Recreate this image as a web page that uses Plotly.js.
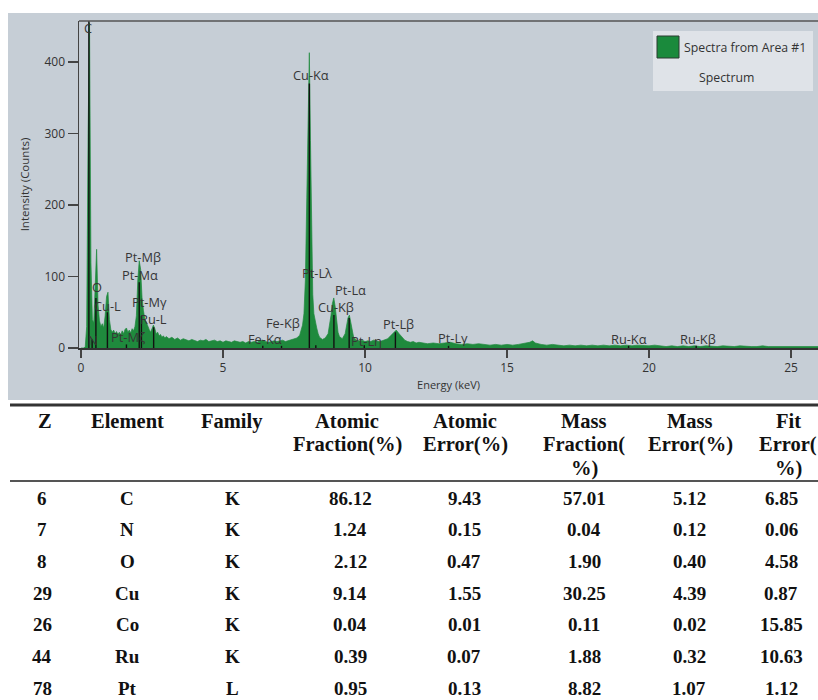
<!DOCTYPE html>
<html><head><meta charset="utf-8">
<script src="https://cdn.plot.ly/plotly-3.0.1.min.js"></script>
<style>html,body{margin:0;padding:0;background:#fff;} #chart{width:818px;height:700px;}</style>
</head><body><div id="chart"></div>
<script>
// ---- Spectrum (energy in keV, intensity in counts) ----
const energyKeV = [
 0,0.05,0.1,0.15,0.2,0.25,0.3,0.35,0.4,0.45,0.5,0.55,0.6,0.65,0.7,0.75,0.8,0.85,0.9,0.95,
 1,1.05,1.1,1.15,1.2,1.25,1.3,1.35,1.4,1.45,1.5,1.55,1.6,1.65,1.7,1.75,1.8,1.85,1.9,1.95,
 2,2.05,2.1,2.15,2.2,2.25,2.3,2.35,2.4,2.45,2.5,2.55,2.6,2.65,2.7,2.75,2.8,2.85,2.9,2.95,3,
 3.1,3.2,3.3,3.4,3.5,3.6,3.7,3.8,3.9,4,4.1,4.2,4.3,4.4,4.5,4.6,4.7,4.8,4.9,5,
 5.1,5.2,5.3,5.4,5.5,5.6,5.7,5.8,5.9,6,6.1,6.2,6.3,6.4,6.5,6.6,6.7,6.8,6.9,7,
 7.1,7.2,7.3,7.4,7.5,7.6,7.7,7.75,7.8,7.85,7.9,7.95,8,8.04,8.08,8.12,8.16,8.2,8.25,8.3,8.35,8.4,
 8.5,8.6,8.7,8.75,8.8,8.85,8.9,8.95,9,9.05,9.1,9.2,9.3,9.35,9.4,9.45,9.5,9.55,9.6,9.7,9.8,9.9,
 10,10.1,10.2,10.3,10.4,10.5,10.6,10.7,10.8,10.9,11,11.1,11.2,11.3,11.4,11.5,11.6,11.7,11.8,11.9,12,
 12.2,12.4,12.6,12.8,13,13.2,13.4,13.6,13.8,14,14.2,14.4,14.6,14.8,15,15.2,15.4,15.6,15.8,15.9,16,
 16.2,16.4,16.6,16.8,17,17.2,17.4,17.6,17.8,18,18.2,18.4,18.6,18.8,19,19.2,19.4,19.6,19.8,20,
 20.2,20.4,20.6,20.8,21,21.2,21.4,21.6,21.8,22,22.2,22.4,22.6,22.8,23,23.2,23.4,23.6,23.8,24,
 24.2,24.4,24.6,24.8,25,25.2,25.4,25.6,25.8,26
];
const counts = [
 0,0,0,2,30,300,455,120,40,35,80,138,60,38,30,34,28,45,72,78,
 40,26,22,25,20,23,19,22,18,24,20,26,28,22,25,21,27,24,30,45,
 95,122,110,70,52,40,36,30,26,22,28,32,27,20,22,17,19,15,17,14,16,
 13,15,12,14,11,13,12,10,12,11,9,11,10,12,9,10,11,9,10,8,
 10,9,8,10,9,8,9,7,9,8,9,8,10,11,9,8,9,10,9,10,
 11,9,10,11,12,14,18,24,32,48,95,210,345,413,290,150,75,48,36,28,20,15,
 12,14,20,30,45,62,70,58,36,22,16,13,20,30,42,46,34,22,15,11,10,11,
 9,10,9,11,10,9,10,11,13,17,21,25,20,15,11,9,8,9,7,8,7,
 6,7,6,7,8,6,5,6,5,6,5,4,5,4,5,4,5,6,8,10,7,
 5,4,5,4,3,4,3,4,3,4,3,4,3,4,3,4,3,4,3,3,
 4,3,2,3,2,3,2,3,2,3,2,2,3,2,2,3,2,2,2,3,
 2,2,2,3,2,2,2,2,2,2
];

// ---- Identified lines: marker energy (keV) and marker height (counts) ----
const lineEnergy = [0.277,0.392,0.525,0.93,1.60,2.05,2.127,2.558,6.40,7.06,8.04,8.268,8.905,9.442,9.975,11.07,12.94,19.28,21.66];
const lineHeight = [460,12,70,50,5,92,45,29,3,3,370,4,46,42,4,22,3,3,3];

// ---- Peak labels ----
const labelText   = ["C","N","O","Cu-L","Pt-Mζ","Pt-Mβ","Pt-Mα","Pt-Mγ","Ru-L","Fe-Kα","Fe-Kβ","Cu-Kα","Pt-Lλ","Cu-Kβ","Pt-Lα","Pt-Lη","Pt-Lβ","Pt-Lγ","Ru-Kα","Ru-Kβ"];
const labelEnergy = [0.25,0.42,0.56,0.95,1.66,2.17,2.08,2.41,2.57,6.48,7.11,8.10,8.31,8.98,9.49,10.04,11.18,13.10,19.31,21.74];
const labelCounts = [448,11,85,59,15,127,102,65,40,12.5,35,382,105,58,81,10,34,14,12.5,12.5];

// ---- Table ----
const tableHeader = ["Z","Element","Family","Atomic<br>Fraction(%)","Atomic<br>Error(%)","Mass<br>Fraction(<br>%)","Mass<br>Error(%)","Fit<br>Error(<br>%)"];
const zNumber        = ["6","7","8","29","26","44","78"];
const elementName    = ["C","N","O","Cu","Co","Ru","Pt"];
const familyName     = ["K","K","K","K","K","K","L"];
const atomicFraction = ["86.12","1.24","2.12","9.14","0.04","0.39","0.95"];
const atomicError    = ["9.43","0.15","0.47","1.55","0.01","0.07","0.13"];
const massFraction   = ["57.01","0.04","1.90","30.25","0.11","1.88","8.82"];
const massError      = ["5.12","0.12","0.40","4.39","0.02","0.32","1.07"];
const fitError       = ["6.85","0.06","4.58","0.87","15.85","10.63","1.12"];

// ---- Layout geometry (pixels) ----
const ML = 79, MT = 21, PW = 739, PH = 327;
const px2x = p => (p - ML) / PW;
const px2y = p => (MT + PH - p) / PH;

const markX = [], markY = [];
lineEnergy.forEach((e, i) => { markX.push(e, e, null); markY.push(0, lineHeight[i], null); });

const traces = [
  { type:'scatter', mode:'lines', x: energyKeV, y: counts, fill:'tozeroy',
    line:{color:'#1f8a3d', width:0.7}, fillcolor:'#1f8a3d', hoverinfo:'skip', showlegend:false },
  { type:'scatter', mode:'lines', x: markX, y: markY, line:{color:'#111', width:1.4},
    hoverinfo:'skip', showlegend:false, connectgaps:false }
];

const annotations = [];
const labelFont = {family:'Open Sans, sans-serif', size:12.8, color:'#363636'};
labelText.forEach((t, i) => annotations.push({
  x: labelEnergy[i], y: labelCounts[i], xref:'x', yref:'y', text: t, showarrow:false,
  xanchor:'center', yanchor:'middle', font: labelFont, borderpad:0
}));

// legend box content
annotations.push({xref:'paper', yref:'paper', x:px2x(682), y:px2y(48), xanchor:'left', yanchor:'middle',
  text:'Spectra from Area #1', showarrow:false, font:{family:'Open Sans, sans-serif', size:12.3, color:'#333'}});
annotations.push({xref:'paper', yref:'paper', x:px2x(726), y:px2y(77), xanchor:'center', yanchor:'middle',
  text:'Spectrum', showarrow:false, font:{family:'Open Sans, sans-serif', size:12.3, color:'#333'}});

// table text
const hFont = {family:'Liberation Serif, Times New Roman, serif', size:20.5, color:'#111'};
const tFont = {family:'Liberation Serif, Times New Roman, serif', size:19, color:'#111'};
const headCenters = [45,127,232,347,465,584,690,788];
const colCenters  = [42,127,232,350,464,584,689,781];
tableHeader.forEach((h, c) => h.split('<br>').forEach((ln, k) => annotations.push({
  xref:'paper', yref:'paper', x:px2x(headCenters[c]), y:px2y(421 + 23.5*k), xanchor:'center', yanchor:'middle',
  text:'<b>'+ln+'</b>', showarrow:false, font:hFont
})));
const columns = [zNumber, elementName, familyName, atomicFraction, atomicError, massFraction, massError, fitError];
columns.forEach((col, c) => col.forEach((v, r) => annotations.push({
  xref:'paper', yref:'paper', x:px2x(colCenters[c]), y:px2y(498 + 31.7*r), xanchor:'center', yanchor:'middle',
  text:'<b>'+v+'</b>', showarrow:false, font:tFont
})));

const shapes = [
  // gray panel
  {type:'rect', xref:'paper', yref:'paper', x0:px2x(8), x1:1, y0:px2y(400), y1:px2y(13),
   fillcolor:'#c6ced6', line:{width:0}, layer:'below'},
  // legend box
  {type:'rect', xref:'paper', yref:'paper', x0:px2x(653), x1:px2x(813), y0:px2y(91), y1:px2y(31),
   fillcolor:'#dfe3e8', line:{width:0}, layer:'above'},
  {type:'rect', xref:'paper', yref:'paper', x0:px2x(657), x1:px2x(679), y0:px2y(58), y1:px2y(36),
   fillcolor:'#1a8a3c', line:{color:'#2b3b30', width:1}, layer:'above'},
  // table rules
  {type:'line', xref:'paper', yref:'paper', x0:px2x(10), x1:1, y0:px2y(405), y1:px2y(405),
   line:{color:'#333', width:3}},
  {type:'line', xref:'paper', yref:'paper', x0:px2x(10), x1:1, y0:px2y(481), y1:px2y(481),
   line:{color:'#555', width:2}},
  // top border of plot area
  {type:'line', xref:'paper', yref:'paper', x0:0, x1:1, y0:1, y1:1, line:{color:'#555', width:1.5}}
];

const axisFont = {family:'Open Sans, sans-serif', size:12, color:'#333'};
const layout = {
  width:818, height:700,
  margin:{l:ML, r:818-ML-PW, t:MT, b:700-MT-PH, pad:0},
  paper_bgcolor:'#ffffff', plot_bgcolor:'rgba(0,0,0,0)',
  showlegend:false,
  xaxis:{range:[-0.0704, 25.95], tickvals:[0,5,10,15,20,25], ticks:'outside', ticklen:8, tickwidth:1.5,
    tickcolor:'#444', showline:true, linecolor:'#333', linewidth:1.5, mirror:false, showgrid:false, zeroline:false,
    tickfont:axisFont, automargin:false,
    title:{text:'Energy (keV)', font:{family:'Open Sans, sans-serif', size:11, color:'#333'}, standoff:6}},
  yaxis:{range:[0, 457.3], tickvals:[0,100,200,300,400], ticks:'outside', ticklen:10, tickwidth:1.5,
    tickcolor:'#444', showline:true, linecolor:'#444', linewidth:1.5, showgrid:false, zeroline:false,
    tickfont:axisFont, automargin:false,
    title:{text:'Intensity (Counts)', font:{family:'Open Sans, sans-serif', size:11.5, color:'#333'}, standoff:12}},
  annotations, shapes
};

Plotly.newPlot('chart', traces, layout, {displayModeBar:false, staticPlot:true});
</script></body></html>
